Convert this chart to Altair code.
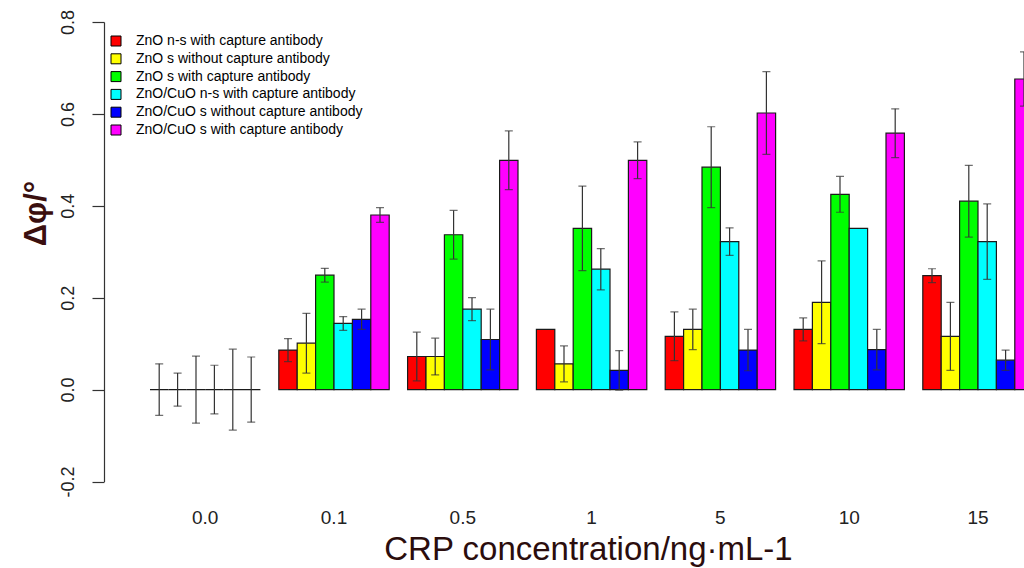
import altair as alt
import pandas as pd

concentrations = ["0.0", "0.1", "0.5", "1", "5", "10", "15"]
series = [
    "ZnO n-s with capture antibody",
    "ZnO s without capture antibody",
    "ZnO s with capture antibody",
    "ZnO/CuO n-s with capture antibody",
    "ZnO/CuO s without capture antibody",
    "ZnO/CuO s with capture antibody",
]
colors = ["#FF0000", "#FFFF00", "#00FF00", "#00FFFF", "#0000FF", "#FF00FF"]

red_vals = [0, 0.086, 0.072, 0.131, 0.116, 0.131, 0.248]
red_err = [0.056, 0.025, 0.053, 0, 0.053, 0.025, 0.015]
yellow_vals = [0, 0.101, 0.072, 0.056, 0.131, 0.190, 0.116]
yellow_err = [0.036, 0.065, 0.040, 0.039, 0.044, 0.090, 0.074]
green_vals = [0, 0.249, 0.337, 0.351, 0.484, 0.425, 0.410]
green_err = [0.073, 0.015, 0.053, 0.092, 0.088, 0.039, 0.078]
cyan_vals = [0, 0.144, 0.175, 0.262, 0.322, 0.351, 0.322]
cyan_err = [0.053, 0.015, 0.025, 0.045, 0.030, 0, 0.082]
blue_vals = [0, 0.153, 0.109, 0.042, 0.086, 0.087, 0.064]
blue_err = [0.088, 0.022, 0.066, 0.043, 0.045, 0.044, 0.022]
magenta_vals = [0, 0.380, 0.499, 0.499, 0.602, 0.558, 0.676]
magenta_err = [0.071, 0.016, 0.064, 0.040, 0.090, 0.053, 0.059]

all_vals = [red_vals, yellow_vals, green_vals, cyan_vals, blue_vals, magenta_vals]
all_errs = [red_err, yellow_err, green_err, cyan_err, blue_err, magenta_err]

rows = []
for name, vals, errs in zip(series, all_vals, all_errs):
    for c, v, e in zip(concentrations, vals, errs):
        rows.append(dict(conc=c, series=name, value=v, err=e, lo=v - e, hi=v + e))
df = pd.DataFrame(rows)

FONT = "Liberation Sans"

x_enc = alt.X(
    "conc:N",
    sort=concentrations,
    scale=alt.Scale(range=[46, 929.2], paddingInner=1 / 7, paddingOuter=0),
    axis=alt.Axis(
        title="CRP concentration/ng·mL-1",
        labelAngle=0,
        domain=False,
        ticks=False,
        labelPadding=36,
        labelBaseline="middle",
        labelFontSize=19,
        labelColor="#222222",
        labelFont=FONT,
        titleFont=FONT,
        titleFontSize=33,
        titleFontWeight="normal",
        titleColor="#2b0d0d",
        titleX=484,
        titleY=78,
        titleAlign="center",
        titleBaseline="alphabetic",
    ),
)
xo_enc = alt.XOffset("series:N", sort=series, scale=alt.Scale(paddingInner=0, paddingOuter=0))
y_scale = alt.Scale(domain=[-0.2, 0.8], nice=False, zero=False)
y_axis = alt.Axis(
    title="Δφ/°",
    values=[-0.2, 0, 0.2, 0.4, 0.6, 0.8],
    labelExpr="replace(format(datum.value, '.1f'), '\u2212', '-')",
    labelAngle=-90,
    labelAlign="center",
    labelBaseline="middle",
    labelPadding=24,
    labelFontSize=18,
    labelColor="#222222",
    labelFont=FONT,
    tickSize=12,
    tickColor="#333333",
    tickWidth=1.2,
    domainColor="#333333",
    domainWidth=1.2,
    grid=False,
    titleFont=FONT,
    titleFontSize=31,
    titleFontWeight="bold",
    titleColor="#3a0f0f",
    titleAngle=-90,
    titleX=-68,
    titleY=191,
    titleAlign="center",
    titleBaseline="middle",
)

base = alt.Chart(df)

bars = base.mark_bar(stroke="#1a1a1a", strokeWidth=1.2, clip=True).encode(
    x=x_enc,
    xOffset=xo_enc,
    y=alt.Y("value:Q", scale=y_scale, axis=y_axis),
    y2=alt.datum(0),
    color=alt.Color(
        "series:N",
        sort=series,
        scale=alt.Scale(domain=series, range=colors),
        legend=alt.Legend(
            title=None,
            orient="none",
            legendX=5,
            legendY=12,
            padding=0,
            symbolType="square",
            symbolSize=100,
            symbolStrokeColor="black",
            symbolStrokeWidth=1,
            symbolOpacity=1,
            labelFontSize=14,
            labelFont=FONT,
            labelColor="black",
            labelOffset=13,
            labelLimit=0,
            rowPadding=3.8,
        ),
    ),
)

err_data = base.transform_filter("datum.err > 0")
rules = err_data.mark_rule(color="#333333", strokeWidth=1.2, clip=True).encode(
    x=alt.X("conc:N", sort=concentrations),
    xOffset=alt.XOffset("series:N", sort=series),
    y=alt.Y("lo:Q"),
    y2="hi:Q",
)
cap_lo = err_data.mark_tick(color="#333333", thickness=1.2, size=8, orient="horizontal", clip=True).encode(
    x=alt.X("conc:N", sort=concentrations),
    xOffset=alt.XOffset("series:N", sort=series),
    y=alt.Y("lo:Q"),
)
cap_hi = err_data.mark_tick(color="#333333", thickness=1.2, size=8, orient="horizontal", clip=True).encode(
    x=alt.X("conc:N", sort=concentrations),
    xOffset=alt.XOffset("series:N", sort=series),
    y=alt.Y("hi:Q"),
)

chart = (
    alt.layer(bars, rules, cap_lo, cap_hi)
    .properties(
        width=920,
        height=459.5,
        autosize=alt.AutoSizeParams(type="none"),
        padding={"left": 104, "top": 22, "right": 0, "bottom": 86.5},
        background="white",
    )
    .configure_view(stroke=None)
)

chart.save("out.html", embed_options={"renderer": "svg", "actions": False})
